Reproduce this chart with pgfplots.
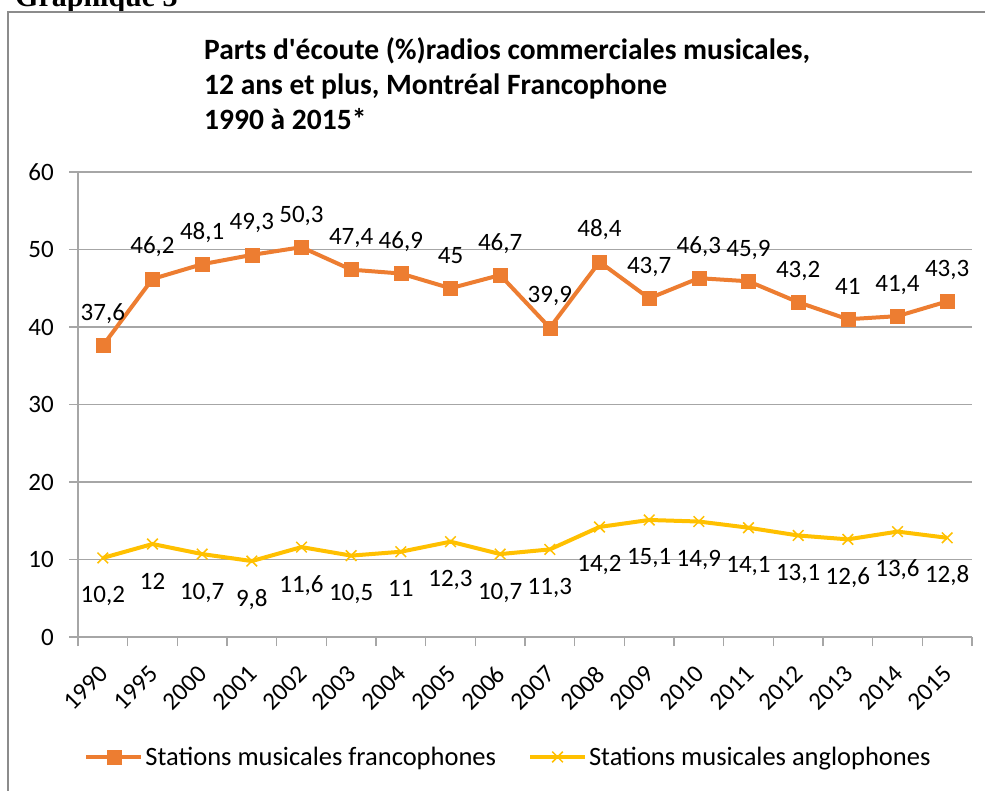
\documentclass[border=0pt]{standalone}
\usepackage{pgfplots}
\usepackage{pgfplotstable}
\pgfplotsset{compat=1.18}
\usepackage{fontspec}
\setmainfont{Carlito}
\newfontfamily\plainfont{Carlito}[Ligatures=ResetAll]
\newfontfamily\serifb{Liberation Serif}
\definecolor{orng}{HTML}{ED7D31}
\definecolor{yel}{HTML}{FFC000}
\definecolor{gridg}{HTML}{A6A6A6}
\definecolor{frameg}{HTML}{8C8C8C}

\pgfplotstableread{
x y lab
0 37.6 37,6
1 46.2 46,2
2 48.1 48,1
3 49.3 49,3
4 50.3 50,3
5 47.4 47,4
6 46.9 46,9
7 45 45
8 46.7 46,7
9 39.9 39,9
10 48.4 48,4
11 43.7 43,7
12 46.3 46,3
13 45.9 45,9
14 43.2 43,2
15 41 41
16 41.4 41,4
17 43.3 43,3
}\franco

\pgfplotstableread{
x y lab
0 10.2 10,2
1 12 12
2 10.7 10,7
3 9.8 9,8
4 11.6 11,6
5 10.5 10,5
6 11 11
7 12.3 12,3
8 10.7 10,7
9 11.3 11,3
10 14.2 14,2
11 15.1 15,1
12 14.9 14,9
13 14.1 14,1
14 13.1 13,1
15 12.6 12,6
16 13.6 13,6
17 12.8 12,8
}\anglo

\begin{document}
\begin{tikzpicture}
\useasboundingbox (0,0) rectangle (985pt,-791pt);
\clip (0,0) rectangle (985pt,-791pt);
\node[anchor=base west, inner sep=0pt, font=\serifb\bfseries\fontsize{30}{36}\selectfont] at (15pt,-7pt) {Graphique 3};
\draw[fill=white, draw=frameg, line width=1.3pt] (8pt,-12pt) rectangle (1000pt,-830pt);
\begin{scope}[every node/.style={anchor=base west, inner sep=0pt, font=\plainfont\bfseries\fontsize{29.5}{35}\selectfont}]
\node at (204pt,-60pt) {Parts d'écoute (\%)radios commerciales musicales,};
\node at (204pt,-95pt) {12 ans et plus, Montréal Francophone};
\node at (204pt,-130pt) {1990 à 2015*};
\end{scope}
\begin{axis}[
  at={(78pt,-637pt)}, anchor=south west,
  scale only axis, width=894pt, height=465pt,
  xmin=-0.5, xmax=17.5, ymin=0, ymax=60,
  axis x line*=bottom, axis y line*=left,
  axis line style={draw=gridg, line width=1.3pt, -},
  tick align=outside,
  ytick={0,10,...,60},
  ymajorgrids, grid style={draw=gridg, line width=1.3pt},
  major tick length=9pt, minor tick length=9pt,
  every tick/.style={draw=gridg, line width=1.3pt},
  xtick={0,...,17},
  xticklabels={1990,1995,2000,2001,2002,2003,2004,2005,2006,2007,2008,2009,2010,2011,2012,2013,2014,2015},
  major x tick style={draw=none},
  minor xtick={-0.5,0.5,...,17.5},
  minor x tick style={draw=gridg, line width=1.3pt},
  /pgf/number format/assume math mode=true,
  ticklabel style={font=\fontsize{25}{30}\selectfont, inner sep=0pt},
  yticklabel style={anchor=east, xshift=-15pt},
  xticklabel style={xshift=1pt, yshift=-24pt, rotate=45, anchor=east},
  clip=false,
  legend style={at={(0.4815,-0.258)}, anchor=center, draw=none, fill=none,
    font=\fontsize{26.5}{31}\selectfont, legend columns=2,
    /tikz/every even column/.append style={column sep=30pt}},
  legend image code/.code={\draw[mark repeat=2,mark phase=2,#1] plot coordinates {(0pt,0pt) (27.5pt,0pt) (55pt,0pt)};},
]
\addplot[color=orng, line width=4pt, mark=square*, mark size=7pt,
  mark options={solid, line width=0.5pt, fill=orng, draw=orng},
  nodes near coords, point meta=explicit symbolic,
  every node near coord/.append style={anchor=base, inner sep=0pt, yshift=25pt, text=black, font=\fontsize{25}{30}\selectfont}]
  table[x=x, y=y, meta=lab] {\franco};
\addlegendentry{Stations musicales francophones}
\addplot[color=yel, line width=4pt, mark=x, mark size=7.5pt,
  mark options={solid, line width=1.5pt},
  nodes near coords, point meta=explicit symbolic,
  every node near coord/.append style={anchor=base, inner sep=0pt, yshift=-45pt, text=black, font=\fontsize{25}{30}\selectfont}]
  table[x=x, y=y, meta=lab] {\anglo};
\addlegendentry{Stations musicales anglophones}
\end{axis}
\end{tikzpicture}
\end{document}
